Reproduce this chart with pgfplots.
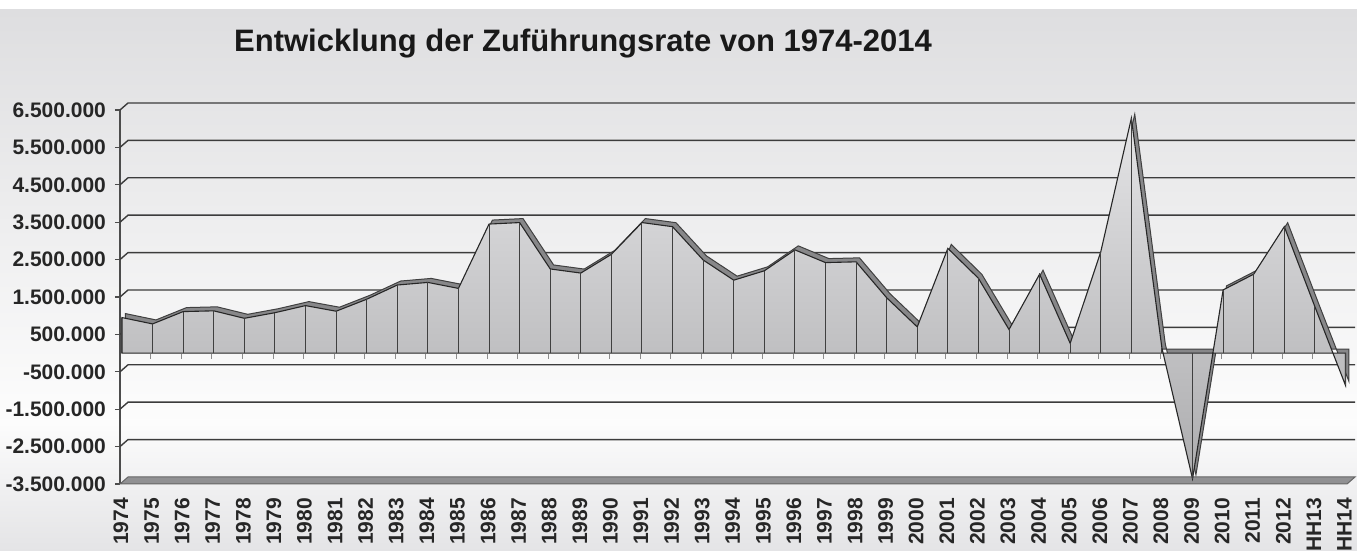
\documentclass[border=0pt]{standalone}
\usepackage{fontspec}
\setmainfont{Liberation Sans}
\usepackage{pgfplots}
\usepackage{pgfplotstable}
\pgfplotsset{compat=1.18}

\definecolor{fronttop}{RGB}{228,228,230}
\definecolor{frontmid}{RGB}{216,216,218}
\definecolor{frontbot}{RGB}{172,172,174}
\definecolor{bandc}{RGB}{135,135,137}
\definecolor{floorc}{RGB}{145,145,147}
\definecolor{gridc}{RGB}{60,60,60}
\definecolor{bgtop}{RGB}{222,222,224}
\definecolor{bgbot}{RGB}{228,228,230}

% Zufuehrungsrate, 1974 ... HH14 (index 0 ... 40)
\pgfplotstableread{
x y
0 950000
1 780000
2 1110000
3 1130000
4 930000
5 1080000
6 1270000
7 1120000
8 1440000
9 1820000
10 1890000
11 1730000
12 3450000
13 3490000
14 2250000
15 2140000
16 2640000
17 3490000
18 3380000
19 2490000
20 1950000
21 2200000
22 2760000
23 2420000
24 2440000
25 1480000
26 700000
27 2800000
28 2000000
29 630000
30 2110000
31 260000
32 2710000
33 6280000
34 130000
35 -3360000
36 1690000
37 2110000
38 3380000
39 1240000
40 -860000
}\rate

\begin{document}
\begin{tikzpicture}
% background
\fill[white] (-60pt,-33.5pt) rectangle (618.5pt,242pt);
\shade[top color=bgtop, bottom color=white!98!gray] (-60pt,32pt) rectangle (618.5pt,237pt);
\shade[top color=white!98!gray, bottom color=bgbot] (-60pt,-33.5pt) rectangle (618.5pt,32pt);

\begin{axis}[
    at={(0,0)}, anchor=south west,
    scale only axis,
    width=613.5pt, height=187pt,
    xmin=-0.065, xmax=40.05,
    ymin=-3500000, ymax=6500000,
    scaled y ticks=false,
    axis lines*=left,
    x axis line style={draw=none},
    y axis line style={draw=black!70, line width=0.6pt},
    xtick={0,...,40},
    xticklabels={1974,1975,1976,1977,1978,1979,1980,1981,1982,1983,1984,1985,1986,1987,1988,1989,1990,1991,1992,1993,1994,1995,1996,1997,1998,1999,2000,2001,2002,2003,2004,2005,2006,2007,2008,2009,2010,2011,2012,HH13,HH14},
    xtick style={draw=none},
    xticklabel style={xshift=-0.5pt, yshift=-1pt, rotate=90, anchor=east, font=\bfseries\fontsize{10.5}{12}\selectfont, text=black!85},
    ytick={-3500000,-2500000,-1500000,-500000,500000,1500000,2500000,3500000,4500000,5500000,6500000},
    yticklabels={-3.500.000,-2.500.000,-1.500.000,-500.000,500.000,1.500.000,2.500.000,3.500.000,4.500.000,5.500.000,6.500.000},
    yticklabel style={font=\bfseries\fontsize{10.5}{12}\selectfont, text=black!85, xshift=-1pt},
    ytick style={draw=black!70, line width=0.6pt},
    tick align=outside,
    major tick length=2.5pt,
    clip=false,
]
% back wall grid lines
\pgfplotsinvokeforeach{-2500000,-1500000,-500000,500000,1500000,2500000,3500000,4500000,5500000,6500000}{
  \draw[gridc, line width=0.7pt] (axis cs:-0.065,#1) -- ++(4pt,3.5pt) -- ([shift={(4pt,3.5pt)}]axis cs:40.05,#1);
}
% floor
\fill[floorc, draw=black!60, line width=0.5pt] (axis cs:-0.065,-3500000) -- ++(4pt,3.5pt)
  -- ([shift={(4pt,3.5pt)}]axis cs:40.05,-3500000) -- (axis cs:40.05,-3500000) -- cycle;

% small ticks on the zero line
\pgfplotsinvokeforeach{1,...,40}{
  \draw[black!45, line width=0.4pt] ([xshift=-1pt]axis cs:#1,-30000) -- ([xshift=-1pt]axis cs:#1,-150000);
}

% depth of the ribbon
\addplot[draw=black!75, line width=0.5pt, fill=bandc, xshift=1.7pt, yshift=2pt] table[x=x, y=y] {\rate} \closedcycle;
% front face
\addplot[draw=black!85, line width=0.55pt, top color=fronttop, middle color=frontmid, bottom color=frontbot] table[x=x, y=y] {\rate} \closedcycle;
% drop lines
\addplot[ycomb, draw=black!75, line width=0.5pt] table[x=x, y=y] {\rate};
\end{axis}

\node[font=\bfseries\fontsize{15.5}{18}\selectfont, text=black!90] at (231.5pt,220pt) {Entwicklung der Zuführungsrate von 1974-2014};

\pgfresetboundingbox
\path (-60pt,-33.5pt) rectangle (618.5pt,242pt);
\end{tikzpicture}
\end{document}
